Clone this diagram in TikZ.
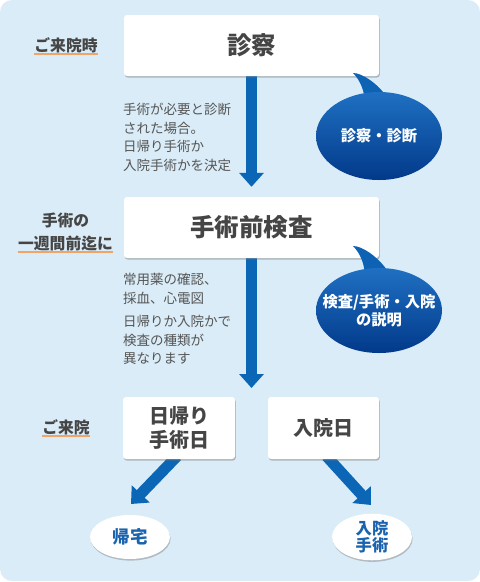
\documentclass[tikz,border=0pt]{standalone}
\usepackage{fontspec}
\setmainfont{Noto Sans CJK JP}
\usetikzlibrary{arrows.meta,shadows,calc,shapes.geometric}
\definecolor{bgc}{HTML}{DAECF7}
\definecolor{arr}{HTML}{0B66B6}
\definecolor{ttl}{HTML}{454545}
\definecolor{txt}{HTML}{555555}
\definecolor{org}{HTML}{F2A366}
\definecolor{ctop}{HTML}{1F70C2}
\definecolor{cbot}{HTML}{02398A}
\definecolor{tailc}{HTML}{0E62B4}
\definecolor{blt}{HTML}{1A63AE}
\pgfdeclarelayer{back}
\pgfdeclarelayer{mid}
\pgfsetlayers{back,mid,main}
\tikzset{
  card/.style={fill=white, rounded corners=3pt, inner sep=0pt, text=ttl,
    drop shadow={shadow xshift=0.8pt, shadow yshift=-1.6pt, opacity=0.45, fill=black!55}},
  title/.style={font=\fontsize{24.5}{29}\selectfont\bfseries},
  subtitle/.style={font=\fontsize{20}{24}\selectfont\bfseries, align=center},
  lab/.style={font=\fontsize{15.8}{23}\selectfont\bfseries, text=ttl, inner sep=0pt, align=center},
  ul/.style={draw=org, line width=2pt},
  body/.style={font=\fontsize{13.5}{18.5}\selectfont, text=txt, align=left, inner sep=0pt, anchor=north west},
  bigarrow/.style={draw=arr, line width=11pt, -{Triangle[width=24pt,length=14pt]}},
  bubbleshade/.style={top color=ctop, bottom color=cbot},
  bubbletext/.style={inner sep=0pt, text=white, font=\fontsize{15.3}{18}\selectfont\bfseries, align=center},
  endpt/.style={ellipse, fill=white, inner sep=0pt, text=blt, align=center,
    minimum width=80pt, minimum height=44pt,
    drop shadow={shadow xshift=0.6pt, shadow yshift=-1.6pt, opacity=0.4, fill=black!55}}
}
\begin{document}
\begin{tikzpicture}[x=1pt,y=-1pt]
\useasboundingbox (0,0) rectangle (480,582);
\begin{pgfonlayer}{back}
\fill[bgc, rounded corners=12pt] (0,0) rectangle (480,581);
\end{pgfonlayer}

% coordinates for arrow ends
\coordinate (split) at (251.5,388);
\coordinate (t3) at (131,504);
\coordinate (t4) at (371,505);

% boxes
\node[card, title, minimum width=255pt, minimum height=61pt] (b1) at (251.5,45.5) {診察};
\node[card, title, minimum width=255pt, minimum height=61pt] (b2) at (251.5,227.5) {手術前検査};
\node[card, subtitle, minimum width=112pt, minimum height=62pt] (b3) at (179,428) {日帰り\\手術日};
\node[card, subtitle, minimum width=111pt, minimum height=62pt] (b4) at (323.5,428) {入院日};

% arrows
\begin{pgfonlayer}{mid}
\draw[bigarrow, shorten >=10pt] (b1.south) -- (b2.north);
\draw[bigarrow] (b2.south) -- (split);
\draw[bigarrow] ($(b3.south)+(-2,-3)$) -- (t3);
\draw[bigarrow] ($(b4.south)+(3,-3)$) -- (t4);
\end{pgfonlayer}

% labels
\node[lab] (l1) at (66,45) {ご来院時};
\draw[ul] ($(l1.south west)+(0,1.5)$) -- ($(l1.south east)+(0,1.5)$);
\node[lab] (l2) at (65.5,231.5) {手術の\\一週間前迄に};
\draw[ul] ($(l2.south west)+(0,1.5)$) -- ($(l2.south east)+(0,1.5)$);
\node[lab] (l3) at (66,427) {ご来院};
\draw[ul] ($(l3.south west)+(0,1.5)$) -- ($(l3.south east)+(0,1.5)$);

% body texts
\node[body] (x1) at (123,103) {手術が必要と診断\\された場合。\\日帰り手術か\\入院手術かを決定};
\node[body] (x2) at (123,273) {常用薬の確認、\\採血、心電図};
\node[body] (x3) at (123,315) {日帰りか入院かで\\検査の種類が\\異なります};

% callouts
\coordinate (c1c) at (379,136);
\coordinate (c2c) at (379,310.5);
\coordinate (tp1) at ($(c1c)+(-26,-63)$);
\coordinate (tp2) at ($(c2c)+(-26,-64.5)$);
\foreach \t in {tp1,tp2}{
  \fill[tailc] (\t) .. controls ($(\t)+(9,0)$) and ($(\t)+(24,10)$) .. ($(\t)+(34,24)$)
    -- ($(\t)+(12,32)$) .. controls ($(\t)+(12,18)$) and ($(\t)+(7,7)$) .. (\t);
}
\shade[bubbleshade] (c1c) ellipse [x radius=63, y radius=44];
\shade[bubbleshade] (c2c) ellipse [x radius=63, y radius=42.5];
\node[bubbletext] (c1) at (c1c) {診察・診断};
\node[bubbletext] (c2) at (c2c) {検査/手術・入院\\の説明};

% end ellipses
\node[endpt, font=\fontsize{17.5}{20}\selectfont\bfseries] (e1) at (130,537) {帰宅};
\node[endpt, font=\fontsize{16.3}{17.5}\selectfont\bfseries] (e2) at (372,537) {入院\\手術};
\end{tikzpicture}
\end{document}
